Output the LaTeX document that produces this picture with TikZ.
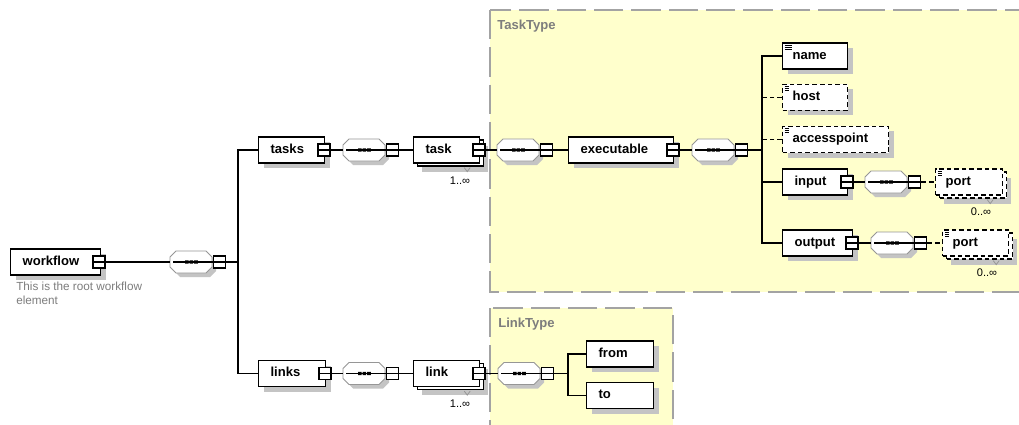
\documentclass[tikz,border=0pt]{standalone}
\usepackage{fontspec}
\setmainfont{Liberation Sans}
\usetikzlibrary{calc,shadows}

\definecolor{typefill}{RGB}{255,255,204}
\definecolor{typeedge}{RGB}{163,163,163}
\definecolor{shadowgray}{RGB}{196,196,196}
\definecolor{octedge}{RGB}{150,150,150}
\definecolor{notegray}{RGB}{125,125,125}

\tikzset{
  % grey offset shadow under element boxes
  eshadow/.style={drop shadow={shadow xshift=#1, shadow yshift=-#1, fill=shadowgray, opacity=1}},
  % outer width of a box in px -> text width
  w/.code={\pgfmathsetlengthmacro\elemtextwidth{(#1)*0.75pt-2*(\pgfkeysvalueof{/pgf/inner xsep})}\tikzset{text width=\elemtextwidth}},
  elem/.style={draw, fill=white, line width=0.9pt, anchor=west, align=left,
    font=\fontsize{9.8}{11}\selectfont\bfseries, inner xsep=9pt, inner ysep=0pt,
    minimum height=19.5pt, text height=7pt, text depth=2pt},
  box/.style={elem, eshadow=3.75pt},
  boxes/.style={elem, eshadow=6.5pt,
    copy shadow={draw, fill=white, shadow xshift=3pt, shadow yshift=-2.25pt}},
  leaf/.style={inner xsep=7.5pt, path picture={
      \foreach \d in {1.6pt,3pt,4.4pt}
        \draw[line width=0.5pt] ([shift={(1.6pt,-\d)}]path picture bounding box.north west) -- ++(5.5pt,0pt);}},
  opt/.style={dash pattern=on 3.5pt off 2.2pt},
  % expand/collapse square
  xsq/.style={draw, line width=1.3pt, fill=white, minimum size=9pt, inner sep=0pt,
    path picture={\draw[line width=1.2pt] (path picture bounding box.west) -- (path picture bounding box.east);}},
  conn/.style={line width=0.8pt},
  optconn/.style={conn, dash pattern=on 3.5pt off 2.2pt},
  mult/.style={font=\fontsize{8.3}{9}\selectfont, inner sep=0pt},
  typelabel/.style={anchor=west, text=notegray, font=\fontsize{9.8}{11}\selectfont\bfseries, inner sep=0pt},
  typeregion/.style={fill=typefill, draw=typeedge, line width=1.1pt, dash pattern=on 22pt off 6pt},
  chevron/.style={draw=octedge, line width=0.6pt},
  % sequence compositor: octagon with three dots and its own square
  seq/.pic={
    \fill[shadowgray] (10,-7) -- (40,-7) -- (46,-1) -- (46,9) -- (40,15) -- (10,15) -- (4,9) -- (4,-1) -- cycle;
    \filldraw[fill=white, draw=octedge, line width=0.7pt]
      (6,-11) -- (36,-11) -- (42,-5) -- (42,5) -- (36,11) -- (6,11) -- (0,5) -- (0,-5) -- cycle;
    \draw[line width=0.8pt] (3,0) -- (43,0);
    \fill (15,-1.7) rectangle (18.6,1.7) (19.6,-1.7) rectangle (23.2,1.7) (24.2,-1.7) rectangle (27.8,1.7);
    \coordinate (-in) at (0,0);
    \node[xsq] (-x) at (49.5,0) {};
  }
}

\begin{document}
\begin{tikzpicture}[x=0.75pt, y=-0.75pt]
  \useasboundingbox (0,0) rectangle (1019,424);
  \fill[white] (0,0) rectangle (1019,424);
  \clip (0,0) rectangle (1019,424);

  % complex type frames
  \path[typeregion] (490,10) rectangle (1040,292);
  \path[typeregion] (490,308) rectangle (673,440);
  \node[typelabel] (tasktype) at (497,26) {TaskType};
  \node[typelabel] (linktype) at (498,324) {LinkType};

  % root
  \node[box, w=90] (workflow) at (10,262) {workflow};
  \node[xsq] (workflow-x) at ($(workflow.east)+(-2,0)$) {};
  \node[anchor=north west, align=left, text=notegray, inner sep=0pt,
        font=\fontsize{8.8}{10.5}\selectfont] (workflow-doc) at (16,282)
        {This is the root workflow\\element};
  \pic (c1) at (170,262) {seq};
  \coordinate (fork1) at (238,262);

  % tasks branch
  \node[box, w=66] (tasks) at (258,150) {tasks};
  \node[xsq] (tasks-x) at ($(tasks.east)+(-1,0)$) {};
  \pic (c2) at (343,150) {seq};
  \node[boxes, w=66] (task) at (413,150) {task};
  \node[xsq] (task-x) at ($(task.east)+(-1,0)$) {};
  \draw[chevron] ($(task.south east)+(-16,4)$) -- ++(3,4) -- ++(3,-4);
  \node[mult] (task-m) at (460,181) {1..∞};
  \pic (c3) at (497,150) {seq};
  \node[box, w=105] (executable) at (568,150) {executable};
  \node[xsq] (executable-x) at ($(executable.east)+(-1,0)$) {};
  \pic (c4) at (692,150) {seq};
  \coordinate (fork2) at (762,150);

  \node[box, leaf, w=65] (name) at (782,56) {name};
  \node[box, leaf, opt, w=65] (host) at (782,97.5) {host};
  \node[box, leaf, opt, w=106] (accesspoint) at (782,139.5) {accesspoint};
  \node[box, w=65] (input) at (782,182) {input};
  \node[xsq] (input-x) at ($(input.east)+(-1,0)$) {};
  \pic (c5) at (865,182) {seq};
  \node[boxes, leaf, opt, w=67] (port1) at (935,182) {port};
  \draw[chevron] ($(port1.south east)+(-16,4)$) -- ++(3,4) -- ++(3,-4);
  \node[mult] (port1-m) at (981,212) {0..∞};
  \node[box, w=70] (output) at (782,243) {output};
  \node[xsq] (output-x) at ($(output.east)+(-1,0)$) {};
  \pic (c8) at (871,243) {seq};
  \node[boxes, leaf, opt, w=66] (port2) at (942,243) {port};
  \draw[chevron] ($(port2.south east)+(-16,4)$) -- ++(3,4) -- ++(3,-4);
  \node[mult] (port2-m) at (987,273) {0..∞};

  % links branch
  \node[box, w=67] (links) at (258,373.5) {links};
  \node[xsq] (links-x) at ($(links.east)+(-1,0)$) {};
  \pic (c6) at (343,373.5) {seq};
  \node[boxes, w=66] (link) at (413,373.5) {link};
  \node[xsq] (link-x) at ($(link.east)+(-1,0)$) {};
  \draw[chevron] ($(link.south east)+(-16,4)$) -- ++(3,4) -- ++(3,-4);
  \node[mult] (link-m) at (460,404) {1..∞};
  \pic (c7) at (498,373.5) {seq};
  \coordinate (fork3) at (568,373.5);
  \node[box, w=67] (from) at (586,354) {from};
  \node[box, w=67] (to) at (586,395.5) {to};

  % connectors
  \draw[conn] (workflow-x.east) -- (c1-in);
  \draw[conn] (c1-x.east) -- (fork1);
  \draw[conn] (tasks.west) -| (fork1) |- (links.west);

  \draw[conn] (tasks-x.east) -- (c2-in);
  \draw[conn] (c2-x.east) -- (task.west);
  \draw[conn] (task-x.east) -- (c3-in);
  \draw[conn] (c3-x.east) -- (executable.west);
  \draw[conn] (executable-x.east) -- (c4-in);
  \draw[conn] (c4-x.east) -- (fork2);
  \draw[conn] (name.west) -| (fork2) |- (output.west);
  \draw[optconn] (host.west) -- (host.west -| fork2);
  \draw[optconn] (accesspoint.west) -- (accesspoint.west -| fork2);
  \draw[conn] (input.west) -- (input.west -| fork2);
  \draw[conn] (input-x.east) -- (c5-in);
  \draw[optconn] (c5-x.east) -- (port1.west);
  \draw[conn] (output-x.east) -- (c8-in);
  \draw[optconn] (c8-x.east) -- (port2.west);

  \draw[conn] (links-x.east) -- (c6-in);
  \draw[conn] (c6-x.east) -- (link.west);
  \draw[conn] (link-x.east) -- (c7-in);
  \draw[conn] (c7-x.east) -- (fork3);
  \draw[conn] (from.west) -| (fork3) |- (to.west);
\end{tikzpicture}
\end{document}
